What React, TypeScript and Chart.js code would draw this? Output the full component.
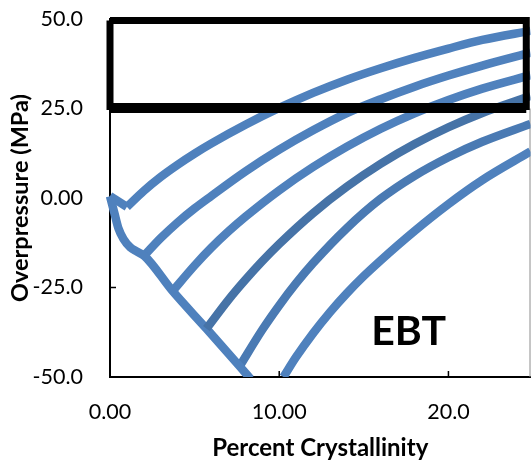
import React, { useEffect, useRef } from "react";
import { Chart, registerables } from "chart.js";

Chart.register(...registerables);

// Axis ticks
const xTicks = [0, 10, 20];
const xTickLabels = ["0.00", "10.00", "20.0"];
const yTicks = [-50, -25, 0, 25, 50];
const yTickLabels = ["-50.0", "-25.0", "0.00", "25.0", "50.0"];

// Axis range
const xMin = 0;
const xMax = 24.85;
const yMin = -50;
const yMax = 50;

// Envelope (lower boundary)
const envX = [0, 0.25, 0.5, 0.8, 1.2, 1.6, 2.04, 3.7, 5.7, 7.66, 8.3];
const envY = [0.5, -4, -8.5, -11.5, -13.8, -15, -16.2, -26, -36.5, -47, -50.5];

// Short first leg of curve 1
const c0X = [0, 1];
const c0Y = [0.5, -2.5];

// Rising curves
const c1X = [1, 2, 3, 4, 5, 6, 8, 10, 12, 14, 16, 18, 20, 22, 24.85];
const c1Y = [-2.5, 2.0, 5.9, 9.3, 12.4, 15.25, 20.45, 25.15, 29.35, 33.05, 36.25, 39.15, 41.75, 44.15, 46.7];

const c2X = [2.04, 3, 4, 5, 6, 8, 10, 12, 14, 16, 18, 20, 22, 24.85];
const c2Y = [-16, -11.2, -6.8, -2.9, 0.6, 7.4, 13.5, 18.9, 23.7, 27.6, 31.1, 34.2, 37.0, 40.6];

const c3X = [3.7, 5, 6, 7, 8, 10, 12, 14, 16, 18, 20, 22, 24.85];
const c3Y = [-26, -18.85, -13.85, -9.35, -5.25, 2.15, 8.65, 14.35, 19.35, 23.65, 27.35, 30.55, 34.3];

const c4X = [5.7, 7, 8, 9, 10, 12, 14, 16, 18, 20, 22, 24.85];
const c4Y = [-36.5, -28.44, -22.84, -17.64, -12.84, -4.24, 3.16, 9.56, 15.06, 19.76, 23.76, 28.5];

const c5X = [7.66, 9, 10, 11, 12, 14, 16, 18, 20, 22, 24.85];
const c5Y = [-47, -36.8, -30, -23.8, -18.2, -8.4, -0.2, 6.2, 11.4, 15.7, 20.7];

const c6X = [10.25, 11, 12, 13, 14, 15, 16, 18, 20, 22, 24.85];
const c6Y = [-50, -44.4, -37.8, -31.9, -26.6, -21.8, -17.4, -9.2, -1.7, 5.0, 13.0];

// Highlight box
const boxX = [0, 24.6, 24.6, 0, 0];
const boxY = [49.6, 49.6, 25.55, 25.55, 49.6];
const boxBaseX = [0, 24.6];
const boxBaseY = [24.7, 24.7];

// Annotation
const labelText = "EBT";
const labelX = 17.65;
const labelY = -37.4;

const BLUE = "#4F81BD";
const DARK = "#4673A7";

function pts(xs: number[], ys: number[]) {
  return xs.map((x, i) => ({ x, y: ys[i] }));
}

export default function App() {
  const ref = useRef<HTMLCanvasElement | null>(null);

  useEffect(() => {
    if (!ref.current) return;

    const curveStyle = (color: string, order: number) => ({
      borderColor: color,
      backgroundColor: color,
      borderWidth: 8.5,
      pointRadius: 0,
      pointHoverRadius: 0,
      fill: false,
      cubicInterpolationMode: "monotone" as const,
      borderJoinStyle: "round" as const,
      clip: { left: 4, top: 0, right: 0, bottom: 0 },
      order,
    });

    const extras = {
      id: "extras",
      beforeDatasetsDraw(chart: any) {
        const { ctx, scales, chartArea } = chart;
        const x = scales.x;
        const y = scales.y;
        ctx.save();
        ctx.strokeStyle = "#000";
        ctx.lineWidth = 1.5;
        for (const v of yTicks) {
          const py = y.getPixelForValue(v);
          ctx.beginPath();
          ctx.moveTo(chartArea.left, py);
          ctx.lineTo(chartArea.left + 6, py);
          ctx.stroke();
        }
        for (const v of xTicks) {
          const px = x.getPixelForValue(v);
          ctx.beginPath();
          ctx.moveTo(px, chartArea.bottom);
          ctx.lineTo(px, chartArea.bottom - 6);
          ctx.stroke();
        }
        ctx.strokeStyle = "#8c8c8c";
        ctx.lineWidth = 1;
        ctx.beginPath();
        ctx.moveTo(chartArea.right - 0.5, y.getPixelForValue(25));
        ctx.lineTo(chartArea.right - 0.5, chartArea.bottom);
        ctx.stroke();
        ctx.restore();
      },
      afterDatasetsDraw(chart: any) {
        const { ctx, scales } = chart;
        ctx.save();
        ctx.fillStyle = "#000";
        ctx.font = "bold 41px Lato";
        ctx.textAlign = "center";
        ctx.textBaseline = "middle";
        ctx.fillText(labelText, scales.x.getPixelForValue(labelX), scales.y.getPixelForValue(labelY));
        ctx.restore();
      },
    };

    const chart = new Chart(ref.current, {
      type: "line",
      data: {
        datasets: [
          {
            data: pts(boxX, boxY),
            borderColor: "#000",
            borderWidth: 7,
            pointRadius: 0,
            pointHoverRadius: 0,
            fill: false,
            tension: 0,
            borderJoinStyle: "miter",
            clip: false as any,
            order: 0,
          },
          {
            data: pts(boxBaseX, boxBaseY),
            borderColor: "#000",
            borderWidth: 7,
            pointRadius: 0,
            pointHoverRadius: 0,
            fill: false,
            tension: 0,
            clip: false as any,
            order: 0,
          },
          { data: pts(envX, envY), ...curveStyle(BLUE, 2) },
          { data: pts(c0X, c0Y), ...curveStyle(BLUE, 2), cubicInterpolationMode: "default" as const, tension: 0 },
          { data: pts(c1X, c1Y), ...curveStyle(BLUE, 2) },
          { data: pts(c2X, c2Y), ...curveStyle(BLUE, 2) },
          { data: pts(c3X, c3Y), ...curveStyle(BLUE, 2) },
          { data: pts(c4X, c4Y), ...curveStyle(DARK, 1) },
          { data: pts(c5X, c5Y), ...curveStyle("#4A7AB3", 2) },
          { data: pts(c6X, c6Y), ...curveStyle(BLUE, 2) },
        ] as any,
      },
      options: {
        responsive: false,
        animation: false,
        layout: { autoPadding: false, padding: { top: 19, right: 1.5, bottom: 0, left: 0 } },
        plugins: { legend: { display: false }, tooltip: { enabled: false } },
        scales: {
          x: {
            type: "linear",
            min: xMin,
            max: xMax,
            afterBuildTicks: (scale: any) => {
              scale.ticks = xTicks.map((v) => ({ value: v }));
            },
            afterFit: (scale: any) => {
              scale.height = 89;
              scale.paddingLeft = 0;
              scale.paddingRight = 0;
              scale.paddingTop = 0;
              scale.paddingBottom = 0;
            },
            grid: { display: false, drawTicks: false },
            border: { display: true, color: "#000", width: 2 },
            ticks: {
              padding: 22,
              color: "#000",
              font: { family: "Lato", size: 21.5 },
              callback: (v: any) => {
                const i = xTicks.indexOf(Number(v));
                return i >= 0 ? xTickLabels[i] : "";
              },
            },
            title: {
              display: true,
              text: "Percent Crystallinity",
              color: "#000",
              font: { family: "Lato", size: 24, weight: "bold" },
              padding: { top: 0, bottom: 3.5 },
            },
          },
          y: {
            type: "linear",
            min: yMin,
            max: yMax,
            afterBuildTicks: (scale: any) => {
              scale.ticks = yTicks.map((v) => ({ value: v }));
            },
            afterFit: (scale: any) => {
              scale.width = 110;
              scale.paddingLeft = 0;
              scale.paddingRight = 0;
              scale.paddingTop = 0;
              scale.paddingBottom = 0;
            },
            grid: { display: false, drawTicks: false },
            border: { display: true, color: "#000", width: 2 },
            ticks: {
              padding: 27,
              color: "#000",
              font: { family: "Lato", size: 21.5 },
              callback: (v: any) => {
                const i = yTicks.indexOf(Number(v));
                return i >= 0 ? yTickLabels[i] : "";
              },
            },
            title: {
              display: true,
              text: "Overpressure (MPa)",
              color: "#000",
              font: { family: "Lato", size: 23.5, weight: "bold" },
              padding: { top: 6.5, bottom: 0 },
            },
          },
        },
      },
      plugins: [extras],
    });

    return () => chart.destroy();
  }, []);

  return (
    <div style={{ position: "absolute", left: 0, top: 0, width: 532, height: 466 }}>
      <canvas ref={ref} width={532} height={466} style={{ display: "block" }} />
    </div>
  );
}
